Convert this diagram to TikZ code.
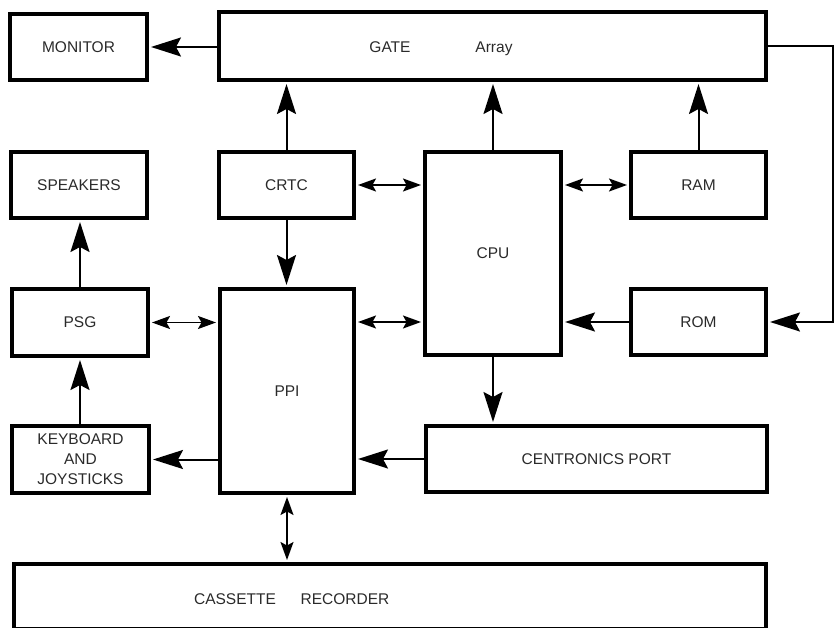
\documentclass[tikz,border=0pt]{standalone}
\usepackage{fontspec}
\setmainfont{Liberation Sans}
\usetikzlibrary{arrows.meta}
\definecolor{ink}{HTML}{2A2A2A}
\tikzset{
  blk/.style={draw=black, line width=4pt, rectangle, inner sep=0pt, text=ink,
    font=\fontsize{15.5}{20}\selectfont, align=center},
  lbl/.style={text=ink, font=\fontsize{15.5}{20}\selectfont, inner sep=0pt, anchor=base},
  big/.style={-{Stealth[length=30pt,width=19pt,inset=5pt]}, line width=2pt, shorten >=2pt},
  dbl/.style={{Stealth[length=18pt,width=13pt,inset=3.5pt]}-{Stealth[length=18pt,width=13pt,inset=3.5pt]},
    line width=1.6pt, shorten >=2pt, shorten <=2pt},
}
\begin{document}
\begin{tikzpicture}[x=1pt,y=-1pt]
\useasboundingbox (0,0) rectangle (834,628);
% boxes
\node[blk, minimum width=137pt, minimum height=66pt] (mon) at (78.5,47) {MONITOR};
\node[blk, minimum width=547pt, minimum height=68pt] (gate) at (492.5,46) {};
\node[lbl] (gatet) at (390,52.6) {GATE};
\node[lbl] (arrt) at (494,52.6) {Array};
\node[blk, minimum width=136pt, minimum height=66pt] (spk) at (79,185) {SPEAKERS};
\node[blk, minimum width=135pt, minimum height=66pt] (crtc) at (286.5,185) {CRTC};
\node[blk, minimum width=136pt, minimum height=203pt] (cpu) at (493,253.5) {CPU};
\node[blk, minimum width=135pt, minimum height=66pt] (ram) at (698.5,185) {RAM};
\node[blk, minimum width=135pt, minimum height=66pt] (rom) at (698.5,322) {ROM};
\node[blk, minimum width=136pt, minimum height=67pt] (psg) at (80,322.5) {PSG};
\node[blk, minimum width=134pt, minimum height=204pt] (ppi) at (287,391) {PPI};
\node[blk, minimum width=137pt, minimum height=67pt] (kb) at (80.5,459.5) {KEYBOARD\\AND\\JOYSTICKS};
\node[blk, minimum width=341pt, minimum height=66pt] (cent) at (596.5,459) {CENTRONICS PORT};
\node[blk, minimum width=752pt, minimum height=65pt] (cass) at (390,596.5) {};
\node[lbl] (casst) at (235,604) {CASSETTE};
\node[lbl] (rect) at (345,604) {RECORDER};
\coordinate (rt) at (832.5,0);
% connectors
\draw[big] (gate.west |- mon.east) -- (mon.east);
\draw[big] (crtc.north) -- (crtc.north |- gate.south);
\draw[big] (cpu.north) -- (cpu.north |- gate.south);
\draw[big] (ram.north) -- (ram.north |- gate.south);
\draw[dbl] (crtc.east) -- (crtc.east -| cpu.west);
\draw[dbl] (cpu.east |- ram.west) -- (ram.west);
\draw[big] (crtc.south) -- (crtc.south |- ppi.north);
\draw[big] (psg.north) -- (psg.north |- spk.south);
\draw[dbl] (psg.east) -- (psg.east -| ppi.west);
\draw[dbl] (ppi.east |- rom.west) -- (cpu.west |- rom.west);
\draw[big] (rom.west) -- (rom.west -| cpu.east);
\draw[big] (gate.east) -- (gate.east -| rt) |- (rom.east);
\draw[big] (kb.north -| psg.south) -- (psg.south);
\draw[big] (ppi.west |- kb.east) -- (kb.east);
\draw[big] (cent.west) -- (cent.west -| ppi.east);
\draw[big] (cpu.south) -- (cpu.south |- cent.north);
\draw[dbl] (ppi.south) -- (ppi.south |- cass.north);
\end{tikzpicture}
\end{document}
